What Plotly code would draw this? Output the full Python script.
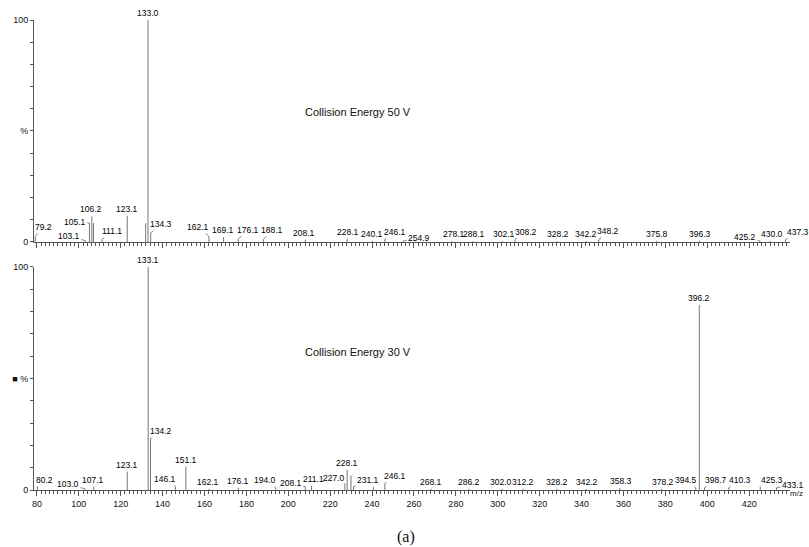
import plotly.graph_objects as go

# ---------------- DATA ----------------
# Top spectrum: Collision Energy 50 V
top_mz = [79.2, 103.1, 105.1, 106.2, 107.0, 111.1, 123.1, 131.9, 133.0, 134.3,
          162.1, 169.1, 176.1, 188.1, 208.1, 228.1, 240.1, 246.1, 254.9, 278.1,
          288.1, 302.1, 308.2, 328.2, 342.2, 348.2, 375.8, 396.3, 425.2, 430.0, 437.3]
top_int = [2.5, 0.6, 8.5, 11.5, 8.5, 1.2, 11.7, 8.5, 100, 4.0,
           2.5, 2.2, 1.2, 1.2, 1.0, 1.5, 0.5, 1.2, 0.4, 0.4,
           0.4, 0.4, 1.0, 0.4, 0.4, 1.0, 0.4, 0.4, 0.4, 0.4, 1.0]
top_lbl = ["79.2", "103.1", "105.1", "106.2", "", "111.1", "123.1", "", "133.0", "134.3",
           "162.1", "169.1", "176.1", "188.1", "208.1", "228.1", "240.1", "246.1", "254.9", "278.1",
           "288.1", "302.1", "308.2", "328.2", "342.2", "348.2", "375.8", "396.3", "425.2", "430.0", "437.3"]

# Bottom spectrum: Collision Energy 30 V
bot_mz = [80.2, 103.0, 107.1, 123.1, 133.1, 134.2, 146.1, 151.1, 162.1, 176.1,
          194.0, 208.1, 211.1, 227.0, 228.1, 229.9, 231.1, 240.6, 246.1, 268.1,
          286.2, 302.0, 312.2, 328.2, 342.2, 358.3, 378.2, 394.5, 396.2, 398.7,
          410.3, 425.3, 433.1]
bot_int = [1.5, 0.5, 1.5, 8.2, 100, 23, 1.5, 10.5, 0.5, 1.0,
           1.0, 1.5, 2.0, 3.0, 9.0, 6.5, 1.5, 1.5, 3.0, 0.5,
           0.5, 0.5, 0.5, 0.5, 0.5, 0.8, 0.5, 1.0, 83, 1.0,
           1.0, 1.5, 1.0]
bot_lbl = ["80.2", "103.0", "107.1", "123.1", "133.1", "134.2", "146.1", "151.1", "162.1", "176.1",
           "194.0", "208.1", "211.1", "227.0", "228.1", "", "231.1", "", "246.1", "268.1",
           "286.2", "302.0", "312.2", "328.2", "342.2", "358.3", "378.2", "394.5", "396.2", "398.7",
           "410.3", "425.3", "433.1"]

x_ticks = list(range(80, 421, 20))

# ---------------- LABEL LAYOUT (positions only) ----------------
# leader labels: (label centre x, label centre y) ; direct labels: (label centre x, None)
top_lpos = {
    "79.2": (82.9, 6.8), "103.1": (95.2, 2.7), "105.1": (98.1, 9.0), "106.2": (105.7, None),
    "111.1": (115.7, 5.0), "123.1": (123.0, None), "133.0": (133.0, None), "134.3": (139.0, 8.1),
    "162.1": (157.1, 6.8), "169.1": (169.0, None), "176.1": (180.6, 5.6), "188.1": (192.4, 5.4),
    "208.1": (207.6, None), "228.1": (228.6, None), "240.1": (240.0, None), "246.1": (251.0, 4.6),
    "254.9": (262.4, 1.9), "278.1": (279.0, None), "288.1": (288.8, None), "302.1": (302.9, None),
    "308.2": (313.3, 4.6), "328.2": (328.6, None), "342.2": (342.3, None), "348.2": (352.6, 5.0),
    "375.8": (376.2, None), "396.3": (396.7, None), "425.2": (418.1, 2.3), "430.0": (431.0, None),
    "437.3": (443.3, 4.6),
}
bot_lpos = {
    "80.2": (83.5, 4.6), "103.0": (94.8, 2.6), "107.1": (107.0, None), "123.1": (122.9, None),
    "133.1": (133.1, None), "134.2": (139.2, 26.5), "146.1": (141.0, 4.9), "151.1": (151.0, None),
    "162.1": (161.6, None), "176.1": (176.1, None), "194.0": (188.7, 4.4), "208.1": (201.1, 3.3),
    "211.1": (211.8, None), "227.0": (222.0, 5.4), "228.1": (228.1, None), "231.1": (238.2, 4.5),
    "246.1": (251.1, 6.4), "268.1": (268.1, None), "286.2": (286.2, None), "302.0": (301.6, None),
    "312.2": (312.0, None), "328.2": (328.4, None), "342.2": (342.7, None), "358.3": (358.6, None),
    "378.2": (378.9, None), "394.5": (390.0, 4.5), "396.2": (396.2, None), "398.7": (404.3, 4.5),
    "410.3": (415.7, 4.5), "425.3": (430.8, 4.5), "433.1": (441.0, 2.4),
}

LINE_COL = "#777777"
AX_COL = "#555555"
FONT = "Liberation Sans, Arial, sans-serif"

fig = go.Figure()


def stick_trace(mz, inten, xa, ya):
    xs, ys = [], []
    for m, v in zip(mz, inten):
        xs += [m, m, None]
        ys += [0, v, None]
    return go.Scatter(x=xs, y=ys, mode="lines", line=dict(color=LINE_COL, width=1),
                      xaxis=xa, yaxis=ya, hoverinfo="skip", showlegend=False)


fig.add_trace(stick_trace(top_mz, top_int, "x", "y"))
fig.add_trace(stick_trace(bot_mz, bot_int, "x2", "y2"))

annotations = []


def add_labels(mz, inten, lbl, lpos, xr, yr):
    for m, v, t in zip(mz, inten, lbl):
        if not t:
            continue
        lx, ly = lpos[t]
        if ly is None:
            annotations.append(dict(x=lx, y=v, xref=xr, yref=yr, text=t, showarrow=False,
                                    xanchor="center", yanchor="bottom", yshift=0,
                                    font=dict(size=8.5, color="#000", family=FONT)))
        else:
            annotations.append(dict(x=m, y=v, xref=xr, yref=yr, ax=lx, ay=ly,
                                    axref=xr, ayref=yr, text=t, showarrow=True,
                                    arrowhead=0, arrowwidth=0.7, arrowcolor="#555",
                                    standoff=0, startstandoff=0,
                                    font=dict(size=8.5, color="#000", family=FONT)))


add_labels(top_mz, top_int, top_lbl, top_lpos, "x", "y")
add_labels(bot_mz, bot_int, bot_lbl, bot_lpos, "x2", "y2")

annotations.append(dict(x=233.3, y=58.6, xref="x", yref="y", text="Collision Energy 50 V",
                        showarrow=False, font=dict(size=11, color="#111", family=FONT)))
annotations.append(dict(x=233.3, y=62.0, xref="x2", yref="y2", text="Collision Energy 30 V",
                        showarrow=False, font=dict(size=11, color="#111", family=FONT)))
annotations.append(dict(x=1.009, y=-0.008, xref="paper", yref="paper", text="m/z",
                        showarrow=False, xanchor="center", yanchor="middle",
                        font=dict(size=8, color="#111", family=FONT)))
annotations.append(dict(x=0.492, y=-0.10, xref="paper", yref="paper", text="(a)",
                        showarrow=False, xanchor="center", yanchor="middle",
                        font=dict(size=16, color="#111", family="Liberation Serif, Times New Roman, serif")))

xrange = [78.6, 439.5]
xcommon = dict(range=xrange, showline=True, linecolor=AX_COL, linewidth=1,
               ticks="outside", ticklen=5, tickcolor=AX_COL, tickwidth=1,
               tickvals=x_ticks, showgrid=False, zeroline=False,
               minor=dict(dtick=2, tick0=80, ticks="outside", ticklen=3, tickcolor=AX_COL, tickwidth=1),
               tickfont=dict(size=9, color="#111", family=FONT))

ytickvals = list(range(0, 101, 10))
top_ytext = ["0", "", "", "", "", "%", "", "", "", "", "100"]
bot_ytext = ["0", "", "", "", "", "\u25a0 %", "", "", "", "", "100"]
ycommon = dict(range=[0, 100], showline=True, linecolor=AX_COL, linewidth=1,
               ticks="outside", ticklen=3, tickcolor=AX_COL, tickwidth=1,
               tickvals=ytickvals, showgrid=False, zeroline=False,
               tickfont=dict(size=9, color="#111", family=FONT))

fig.update_layout(
    width=809, height=547,
    margin=dict(l=32, r=19, t=20, b=57),
    paper_bgcolor="white", plot_bgcolor="white",
    showlegend=False,
    xaxis=dict(**xcommon, anchor="y", domain=[0, 1], showticklabels=False),
    yaxis=dict(**ycommon, anchor="x", domain=[0.5277, 1], ticktext=top_ytext),
    xaxis2=dict(**xcommon, anchor="y2", domain=[0, 1], showticklabels=True,
                ticktext=[str(v) for v in x_ticks]),
    yaxis2=dict(**ycommon, anchor="x2", domain=[0, 0.4745], ticktext=bot_ytext),
    annotations=annotations,
)

fig.write_html("out.html")
